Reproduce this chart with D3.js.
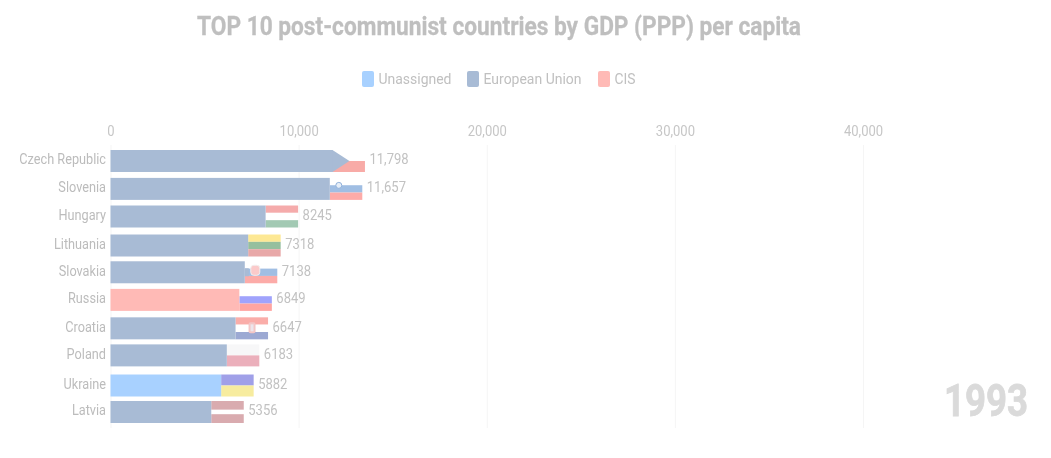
<!DOCTYPE html>
<html><head><meta charset="utf-8">
<script src="https://cdn.jsdelivr.net/npm/d3@7"></script>
<style>
html,body{margin:0;background:#fff;overflow:hidden}
svg{display:block;filter:blur(.6px)}
text{font-family:Roboto,sans-serif}
</style></head><body><svg id="c" width="1051" height="458"></svg>
<script>
const titleText = "TOP 10 post-communist countries by GDP (PPP) per capita";
const yearLabel = "1993";
const countries = ["Czech Republic","Slovenia","Hungary","Lithuania","Slovakia","Russia","Croatia","Poland","Ukraine","Latvia"];
const gdpValues = [11798,11657,8245,7318,7138,6849,6647,6183,5882,5356];
const ranks = [0,1,1.99,3.03,3.99,4.98,6,6.97,8.05,9];
const groupsOf = ["European Union","European Union","European Union","European Union","European Union","CIS","European Union","European Union","Unassigned","European Union"];
const legendGroups = ["Unassigned","European Union","CIS"];
const groupColors = ["#a8d1ff","#a8bbd5","#ffbab6"];
const xTicks = [0,10000,20000,30000,40000];
const flagStripes = {
  "Czech Republic":["#ffffff","#f8aba7"],
  "Slovenia":["#ffffff","#a0bee3","#fdaba8"],
  "Hungary":["#f5abab","#ffffff","#a2c9b3"],
  "Lithuania":["#fde894","#96bf9e","#e8a8a8"],
  "Slovakia":["#ffffff","#a0bee3","#fcaba8"],
  "Russia":["#ffffff","#a0a3fc","#ffa5a1"],
  "Croatia":["#faada9","#ffffff","#9ca9d3"],
  "Poland":["#f7f7f8","#ebafbb"],
  "Ukraine":["#a0a0e8","#f7ec9f"],
  "Latvia":["#d9abaf","#ffffff","#d9abaf"]
};
const flagWeights = { "Latvia":[2,1,2] };
const svg = d3.select("#c");
const barH = 22, flagW = 32.5;
const x = d3.scaleLinear().domain([0,40000]).range([110.5,863]);
const y = d3.scaleLinear().domain([0,9]).range([150,401]);
const color = d3.scaleOrdinal(legendGroups, groupColors);

function condense(sel, k){
  sel.each(function(){
    const len = this.getComputedTextLength();
    this.setAttribute("textLength", len*k);
    this.setAttribute("lengthAdjust","spacingAndGlyphs");
  });
  return sel;
}

// axis + grid
const axis = d3.axisTop(x).tickValues(xTicks).tickSize(-283).tickPadding(9)
  .tickFormat(d3.format(","));
const ax = svg.append("g").attr("transform","translate(0,145)").call(axis);
ax.select(".domain").remove();
ax.selectAll("line").attr("stroke","#f5f5f5");
ax.selectAll("text").attr("fill","#c6c6c6").attr("font-size",15.5);
condense(ax.selectAll("text"),.84);

// bars
const rows = countries.map((c,i)=>({c,v:gdpValues[i],r:ranks[i],g:groupsOf[i]}));
const row = svg.append("g").selectAll("g").data(rows).join("g")
  .attr("transform",d=>`translate(0,${y(d.r)})`);

// flags
row.each(function(d){
  const g = d3.select(this), x0 = x(d.v);
  const st = flagStripes[d.c];
  const w = flagWeights[d.c] || st.map(()=>1);
  const band = d3.scaleLinear().domain([0,d3.sum(w)]).range([0,barH]);
  let acc = 0;
  st.forEach((col,i)=>{
    g.append("rect").attr("x",x0).attr("width",flagW)
     .attr("y",band(acc)).attr("height",band(acc+w[i])-band(acc))
     .attr("fill",col);
    acc += w[i];
  });
  if(d.c==="Czech Republic"){
    g.append("path").attr("fill",color(d.g))
     .attr("d",`M${x0-1},0L${x0},0L${x0+17},${barH/2}L${x0},${barH}L${x0-1},${barH}Z`);
  }
  if(d.c==="Slovenia"){
    g.append("circle").attr("cx",x0+9).attr("cy",7.5).attr("r",3)
     .attr("fill","#e6eef8").attr("stroke","#8fb0da");
  }
  if(d.c==="Slovakia"){
    g.append("rect").attr("x",x0).attr("y",7).attr("width",4).attr("height",8).attr("fill",color(d.g));
    g.append("rect").attr("x",x0+6).attr("y",4).attr("width",9).attr("height",10).attr("rx",3)
     .attr("fill","#fbcaca").attr("stroke","#f3eeee");
  }
  if(d.c==="Croatia"){
    g.append("rect").attr("x",x0+13).attr("y",5).attr("width",7).attr("height",11).attr("rx",2).attr("fill","#f3c6c6");
    g.append("rect").attr("x",x0+15).attr("y",7).attr("width",3).attr("height",7).attr("fill","#ece6ec");
  }
});

// body bars
row.append("rect").attr("x",x(0)).attr("y",0).attr("height",barH)
  .attr("width",d=>x(d.v)-x(0)).attr("fill",d=>color(d.g));

// country labels
const names = row.append("text").attr("x",106).attr("y",barH/2-2).attr("dy",".35em")
  .attr("text-anchor","end").attr("fill","#bcbcbc").attr("font-size",15.5).text(d=>d.c);
condense(names,.82);

// value labels
const vals = row.append("text").attr("x",d=>x(d.v)+flagW+4.5).attr("y",barH/2-2).attr("dy",".35em")
  .attr("fill","#c2c2c2").attr("font-size",15.5)
  .text(d=>d.v>=10000?d3.format(",")(d.v):String(d.v));
condense(vals,.84);

// title
svg.append("text").attr("x",197).attr("y",35).attr("font-size",25.5).attr("font-weight",700)
  .attr("fill","#bfbfbf").attr("stroke","#bfbfbf").attr("stroke-width",.3)
  .attr("textLength",604).attr("lengthAdjust","spacingAndGlyphs").text(titleText);

// legend
const legendX = d3.scaleOrdinal(legendGroups,[362,467,598]);
const legendW = d3.scaleOrdinal(legendGroups,[73,98,21]);
const lg = svg.append("g").selectAll("g").data(legendGroups).join("g")
  .attr("transform",d=>`translate(${legendX(d)},71)`);
lg.append("rect").attr("width",12).attr("height",16).attr("rx",2).attr("fill",d=>color(d));
lg.append("text").attr("x",16.5).attr("y",13).attr("font-size",15.5).attr("fill","#c0c0c0")
  .attr("textLength",d=>legendW(d)).attr("lengthAdjust","spacingAndGlyphs").text(d=>d);

// year
svg.append("text").attr("x",1028).attr("y",416).attr("text-anchor","end")
  .attr("font-size",45).attr("font-weight",700).attr("fill","#dadada")
  .attr("stroke","#dadada").attr("stroke-width",.8)
  .attr("textLength",84).attr("lengthAdjust","spacingAndGlyphs").text(yearLabel);
</script></body></html>
